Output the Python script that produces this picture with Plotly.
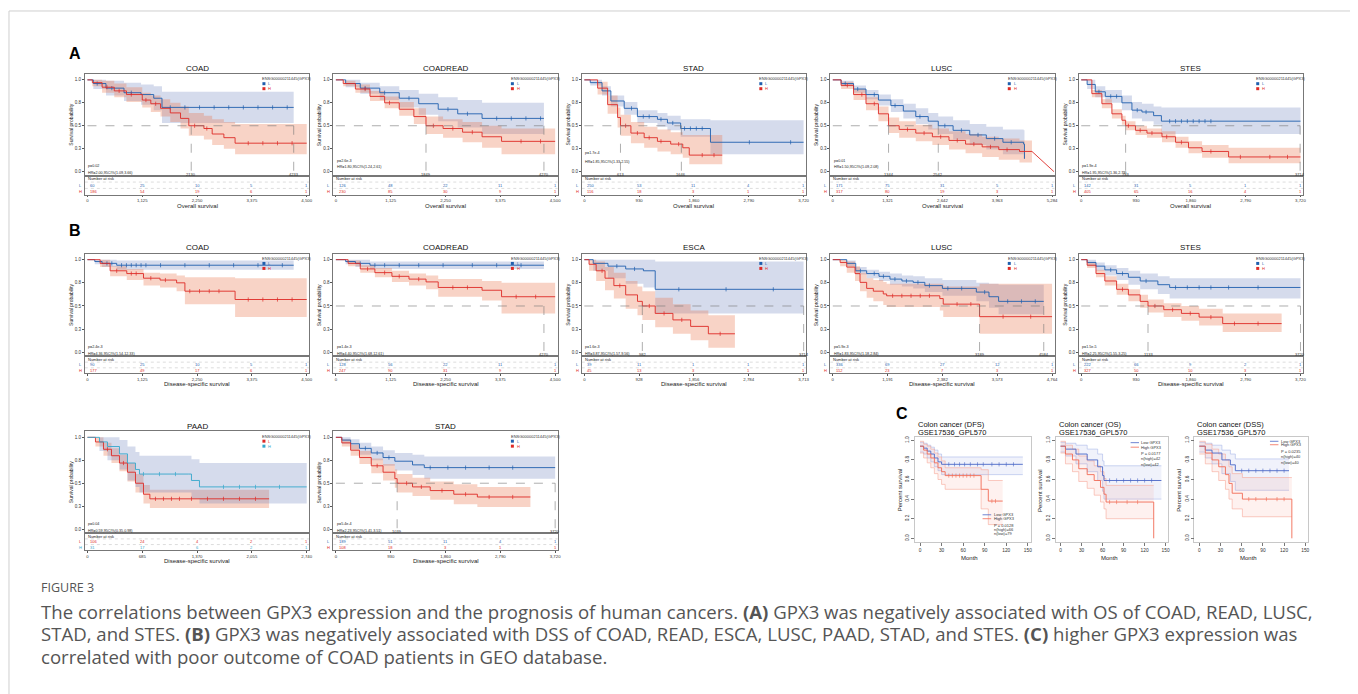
import bisect
import plotly.graph_objects as go

# the page has an 8px body margin, so the figure is drawn at (8, 8)
OFF = 8
FW, FH = 1358 - OFF, 694 - OFF
FONT = "Liberation Sans, Arial, sans-serif"

# ------------------------------------------------------------------ data
COAD_OS = dict(
    title="COAD", xlabel="Overall survival", xmax=4500,
    ticks=[0, 1125, 2250, 3375, 4500], ticklab=["0", "1,125", "2,250", "3,375", "4,500"],
    L_t=[0, 120, 380, 750, 1100, 1360, 1530, 4233],
    L_s=[1, 0.96, 0.91, 0.86, 0.84, 0.80, 0.70, 0.70],
    L_lo=[1, 0.90, 0.83, 0.77, 0.73, 0.67, 0.53, 0.53],
    L_hi=[1, 1, 0.99, 0.97, 0.95, 0.93, 0.87, 0.87],
    L_c=[200, 500, 900, 1700, 2000, 2300, 2600, 2900, 3200, 3500, 3800, 4100],
    H_t=[0, 100, 300, 550, 800, 1125, 1300, 1500, 1700, 1910, 2080, 2390, 2560, 2800, 3030, 4500],
    H_s=[1, 0.97, 0.92, 0.88, 0.84, 0.78, 0.74, 0.69, 0.64, 0.58, 0.50, 0.47, 0.41, 0.37, 0.31, 0.31],
    H_lo=[1, 0.93, 0.86, 0.81, 0.76, 0.70, 0.65, 0.60, 0.54, 0.47, 0.39, 0.35, 0.29, 0.25, 0.19, 0.19],
    H_hi=[1, 1, 0.99, 0.96, 0.92, 0.86, 0.83, 0.79, 0.75, 0.71, 0.64, 0.61, 0.57, 0.54, 0.52, 0.52],
    H_c=[400, 650, 900, 1200, 1400, 2200, 2450, 3300, 3600, 3900, 4200],
    med=[2130, 4233], risk_L=[60, 25, 10, 5, 1], risk_H=[186, 54, 19, 6, 1],
    p="p=0.02", hr="HR=2.00,95CI%(1.09,3.66)")

COADREAD_OS = dict(
    title="COADREAD", xlabel="Overall survival", xmax=4500,
    ticks=[0, 1125, 2250, 3375, 4500], ticklab=["0", "1,125", "2,250", "3,375", "4,500"],
    L_t=[0, 200, 500, 900, 1300, 1700, 2100, 2500, 3000, 4270],
    L_s=[1, 0.96, 0.91, 0.86, 0.80, 0.74, 0.68, 0.63, 0.58, 0.58],
    L_lo=[1, 0.92, 0.85, 0.78, 0.70, 0.62, 0.55, 0.48, 0.41, 0.41],
    L_hi=[1, 1, 0.97, 0.93, 0.89, 0.85, 0.81, 0.78, 0.75, 0.75],
    L_c=[600, 1000, 1500, 2300, 2700, 3300, 3600, 3900, 4200],
    H_t=[0, 150, 400, 700, 1000, 1300, 1600, 1849, 2200, 2600, 3000, 3400, 4500],
    H_s=[1, 0.96, 0.90, 0.82, 0.75, 0.68, 0.60, 0.50, 0.47, 0.43, 0.38, 0.33, 0.33],
    H_lo=[1, 0.93, 0.86, 0.77, 0.69, 0.61, 0.52, 0.41, 0.37, 0.32, 0.26, 0.19, 0.19],
    H_hi=[1, 0.99, 0.95, 0.88, 0.82, 0.76, 0.69, 0.60, 0.57, 0.54, 0.50, 0.47, 0.47],
    H_c=[600, 1100, 2000, 2400, 2800, 3800, 4200],
    med=[1849, 4270], risk_L=[126, 48, 22, 11, 1], risk_H=[230, 85, 30, 9, 1],
    p="p=2.6e-3", hr="HR=1.80,95CI%(1.24,2.61)")

STAD_OS = dict(
    title="STAD", xlabel="Overall survival", xmax=3720,
    ticks=[0, 930, 1860, 2790, 3720], ticklab=["0", "930", "1,860", "2,790", "3,720"],
    L_t=[0, 100, 300, 450, 676, 900, 1240, 1410, 1634, 2140, 3720],
    L_s=[1, 0.97, 0.88, 0.77, 0.69, 0.60, 0.57, 0.53, 0.47, 0.32, 0.32],
    L_lo=[1, 0.94, 0.83, 0.71, 0.62, 0.53, 0.49, 0.45, 0.38, 0.19, 0.19],
    L_hi=[1, 1, 0.93, 0.83, 0.76, 0.67, 0.64, 0.61, 0.57, 0.56, 0.56],
    L_c=[800, 1000, 1100, 1300, 1500, 1700, 1800, 1900, 2000, 2800, 3500],
    H_t=[0, 225, 395, 564, 613, 790, 1015, 1240, 1465, 1670, 1780, 2340],
    H_s=[1, 0.91, 0.73, 0.59, 0.50, 0.42, 0.37, 0.33, 0.30, 0.26, 0.18, 0.18],
    H_lo=[1, 0.84, 0.63, 0.48, 0.39, 0.31, 0.26, 0.22, 0.19, 0.15, 0.08, 0.08],
    H_hi=[1, 0.98, 0.83, 0.70, 0.62, 0.54, 0.49, 0.46, 0.43, 0.40, 0.40, 0.40],
    H_c=[700, 900, 1100, 1300, 1600, 2000, 2200],
    med=[613, 1646], risk_L=[250, 53, 11, 4, 1], risk_H=[116, 18, 3, 1, 1],
    p="p=1.7e-4", hr="HR=1.85,95CI%(1.33,2.55)")

LUSC_OS = dict(
    title="LUSC", xlabel="Overall survival", xmax=5284,
    ticks=[0, 1321, 2642, 3963, 5284], ticklab=["0", "1,321", "2,642", "3,963", "5,284"],
    L_t=[0, 200, 500, 800, 1100, 1400, 1700, 2000, 2300, 2542, 2900, 3300, 3700, 4100, 4600, 4620],
    L_s=[1, 0.96, 0.90, 0.84, 0.78, 0.72, 0.66, 0.60, 0.55, 0.50, 0.45, 0.40, 0.36, 0.32, 0.30, 0.14],
    L_lo=[1, 0.93, 0.86, 0.79, 0.72, 0.65, 0.58, 0.52, 0.46, 0.41, 0.35, 0.29, 0.24, 0.19, 0.14, 0.14],
    L_hi=[1, 0.99, 0.94, 0.89, 0.84, 0.79, 0.74, 0.69, 0.64, 0.60, 0.56, 0.52, 0.49, 0.46, 0.45, 0.45],
    L_c=[300, 600, 1000, 1500, 2100, 2700, 3100, 3500, 3900, 4300],
    H_t=[0, 200, 500, 800, 1100, 1344, 1600, 2000, 2400, 2800, 3200, 3600, 4000, 4500, 4800],
    H_s=[1, 0.94, 0.84, 0.74, 0.63, 0.50, 0.46, 0.42, 0.38, 0.34, 0.30, 0.27, 0.24, 0.22, 0.22],
    H_lo=[1, 0.90, 0.78, 0.67, 0.55, 0.42, 0.37, 0.33, 0.29, 0.24, 0.20, 0.16, 0.13, 0.10, 0.10],
    H_hi=[1, 0.98, 0.90, 0.81, 0.71, 0.59, 0.55, 0.51, 0.47, 0.44, 0.41, 0.38, 0.36, 0.34, 0.34],
    H_c=[350, 700, 1000, 1800, 2200, 2600, 3000, 3400, 3800, 4200],
    H_tail_t=[4800, 5330], H_tail_s=[0.22, 0.0],
    med=[1344, 2542], risk_L=[171, 75, 31, 5, 1], risk_H=[317, 80, 19, 3, 1],
    p="p=0.01", hr="HR=1.50,95CI%(1.09,2.08)")

STES_OS = dict(
    title="STES", xlabel="Overall survival", xmax=3720,
    ticks=[0, 930, 1860, 2790, 3720], ticklab=["0", "930", "1,860", "2,790", "3,720"],
    L_t=[0, 100, 238, 408, 690, 860, 1030, 1228, 1360, 3720],
    L_s=[1, 0.95, 0.87, 0.82, 0.75, 0.67, 0.65, 0.61, 0.55, 0.55],
    L_lo=[1, 0.90, 0.81, 0.75, 0.67, 0.58, 0.55, 0.51, 0.41, 0.41],
    L_hi=[1, 1, 0.93, 0.89, 0.83, 0.76, 0.74, 0.71, 0.70, 0.70],
    L_c=[300, 500, 600, 950, 1100, 1500, 1600, 1700, 1800, 1900, 2000, 2100, 2200],
    H_t=[0, 180, 350, 520, 690, 753, 920, 1115, 1370, 1600, 1820, 2050, 2500, 3720],
    H_s=[1, 0.85, 0.74, 0.63, 0.56, 0.50, 0.45, 0.42, 0.38, 0.32, 0.26, 0.22, 0.16, 0.16],
    H_lo=[1, 0.81, 0.69, 0.58, 0.51, 0.45, 0.40, 0.37, 0.32, 0.26, 0.20, 0.15, 0.09, 0.09],
    H_hi=[1, 0.89, 0.79, 0.68, 0.61, 0.55, 0.50, 0.47, 0.44, 0.38, 0.33, 0.29, 0.26, 0.26],
    H_c=[800, 1000, 1200, 1450, 1700, 2200, 2700, 3200, 3500],
    med=[753, 3714], risk_L=[142, 31, 5, 1, 1], risk_H=[405, 65, 16, 4, 1],
    p="p=1.9e-4", hr="HR=1.95,95CI%(1.36,2.79)")

COAD_DSS = dict(
    title="COAD", xlabel="Disease-specific survival", xmax=4500,
    ticks=[0, 1125, 2250, 3375, 4500], ticklab=["0", "1,125", "2,250", "3,375", "4,500"],
    L_t=[0, 150, 300, 600, 4233],
    L_s=[1, 0.98, 0.96, 0.94, 0.94],
    L_lo=[1, 0.95, 0.92, 0.89, 0.89],
    L_hi=[1, 1, 1, 0.99, 0.99],
    L_c=[400, 500, 700, 800, 900, 1000, 1100, 1200, 1500, 2000, 2500, 3000, 3500, 4000],
    H_t=[0, 260, 465, 807, 1150, 1490, 1830, 2000, 3030, 4500],
    H_s=[1, 0.96, 0.88, 0.85, 0.80, 0.78, 0.75, 0.66, 0.57, 0.57],
    H_lo=[1, 0.92, 0.82, 0.78, 0.72, 0.70, 0.66, 0.52, 0.38, 0.38],
    H_hi=[1, 1, 0.93, 0.90, 0.86, 0.85, 0.83, 0.81, 0.80, 0.80],
    H_c=[600, 900, 1000, 1300, 1600, 2100, 2300, 2500, 2700, 3300, 3600, 3900, 4200],
    med=[], risk_L=[90, 25, 10, 5, 1], risk_H=[177, 49, 17, 6, 1],
    p="p=2.4e-3", hr="HR=4.36,95CI%(1.54,12.33)")

COADREAD_DSS = dict(
    title="COADREAD", xlabel="Disease-specific survival", xmax=4500,
    ticks=[0, 1125, 2250, 3375, 4500], ticklab=["0", "1,125", "2,250", "3,375", "4,500"],
    L_t=[0, 200, 400, 700, 4270],
    L_s=[1, 0.98, 0.96, 0.94, 0.94],
    L_lo=[1, 0.95, 0.92, 0.90, 0.90],
    L_hi=[1, 1, 1, 0.98, 0.98],
    L_c=[500, 800, 1000, 1300, 1700, 2200, 2800, 3300, 3800],
    H_t=[0, 250, 500, 800, 1150, 1500, 1850, 2100, 3000, 3400, 4500],
    H_s=[1, 0.96, 0.90, 0.86, 0.82, 0.79, 0.76, 0.70, 0.67, 0.60, 0.60],
    H_lo=[1, 0.93, 0.86, 0.81, 0.76, 0.72, 0.68, 0.60, 0.56, 0.42, 0.42],
    H_hi=[1, 0.99, 0.94, 0.91, 0.88, 0.85, 0.83, 0.79, 0.77, 0.75, 0.75],
    H_c=[650, 1000, 1300, 1700, 2400, 2700, 3700, 4100],
    med=[4270], risk_L=[128, 56, 22, 11, 1], risk_H=[247, 90, 31, 9, 1],
    p="p=1.4e-3", hr="HR=4.40,95CI%(1.68,12.61)")

ESCA_DSS = dict(
    title="ESCA", xlabel="Disease-specific survival", xmax=3713,
    ticks=[0, 928, 1856, 2784, 3713], ticklab=["0", "928", "1,856", "2,784", "3,713"],
    L_t=[0, 150, 400, 700, 1000, 1200, 3713],
    L_s=[1, 0.96, 0.93, 0.90, 0.88, 0.68, 0.68],
    L_lo=[1, 0.88, 0.80, 0.74, 0.70, 0.42, 0.42],
    L_hi=[1, 1, 1, 1, 1, 0.98, 0.98],
    L_c=[550, 850, 1600, 2400, 3200],
    H_t=[0, 80, 200, 350, 500, 700, 900, 982, 1200, 1500, 1800, 2100, 2550],
    H_s=[1, 0.95, 0.88, 0.80, 0.72, 0.62, 0.55, 0.50, 0.42, 0.35, 0.28, 0.20, 0.20],
    H_lo=[1, 0.88, 0.77, 0.67, 0.58, 0.47, 0.40, 0.35, 0.27, 0.20, 0.13, 0.05, 0.05],
    H_hi=[1, 1, 0.98, 0.92, 0.86, 0.77, 0.71, 0.66, 0.59, 0.52, 0.45, 0.40, 0.40],
    H_c=[300, 600, 1100, 1350, 1650, 2300],
    med=[982, 3714], risk_L=[39, 11, 1, 1, 1], risk_H=[45, 13, 3, 1, 1],
    p="p=1.6e-3", hr="HR=3.87,95CI%(1.57,9.56)")

LUSC_DSS = dict(
    title="LUSC", xlabel="Disease-specific survival", xmax=4764,
    ticks=[0, 1191, 2382, 3573, 4764], ticklab=["0", "1,191", "2,382", "3,573", "4,764"],
    L_t=[0, 303, 498, 736, 1004, 1242, 1502, 1747, 2000, 2382, 3119, 3394, 3603, 4584],
    L_s=[1, 0.96, 0.88, 0.85, 0.82, 0.79, 0.77, 0.755, 0.72, 0.69, 0.65, 0.60, 0.55, 0.55],
    L_lo=[1, 0.93, 0.84, 0.80, 0.77, 0.73, 0.71, 0.69, 0.65, 0.61, 0.55, 0.48, 0.41, 0.41],
    L_hi=[1, 0.99, 0.92, 0.89, 0.87, 0.85, 0.83, 0.82, 0.80, 0.78, 0.75, 0.74, 0.73, 0.73],
    L_c=[600, 900, 1100, 1350, 1600, 1850, 2100, 2500, 2800, 3300, 3800, 4100, 4400],
    H_t=[0, 159, 303, 483, 592, 736, 881, 1097, 1170, 2325, 2400, 3189, 4764],
    H_s=[1, 0.97, 0.92, 0.85, 0.755, 0.69, 0.66, 0.63, 0.61, 0.58, 0.52, 0.385, 0.385],
    H_lo=[1, 0.93, 0.86, 0.77, 0.66, 0.59, 0.55, 0.51, 0.49, 0.45, 0.38, 0.20, 0.20],
    H_hi=[1, 1, 0.98, 0.93, 0.86, 0.80, 0.78, 0.76, 0.74, 0.74, 0.71, 0.74, 0.74],
    H_c=[1300, 1500, 1700, 1900, 2100, 2700, 3000, 3700, 4300],
    med=[3189, 4584], risk_L=[336, 69, 27, 12, 1], risk_H=[112, 23, 7, 3, 1],
    p="p=5.9e-3", hr="HR=1.83,95CI%(1.18,2.84)")

STES_DSS = dict(
    title="STES", xlabel="Disease-specific survival", xmax=3720,
    ticks=[0, 930, 1860, 2790, 3720], ticklab=["0", "930", "1,860", "2,790", "3,720"],
    L_t=[0, 100, 250, 400, 600, 800, 1000, 1300, 1500, 3720],
    L_s=[1, 0.97, 0.93, 0.89, 0.85, 0.81, 0.77, 0.73, 0.70, 0.70],
    L_lo=[1, 0.93, 0.88, 0.83, 0.78, 0.73, 0.68, 0.63, 0.58, 0.58],
    L_hi=[1, 1, 0.97, 0.94, 0.91, 0.88, 0.85, 0.82, 0.80, 0.80],
    L_c=[500, 700, 1100, 1600, 1800, 2000, 2200, 2500, 3000],
    H_t=[0, 100, 250, 400, 600, 800, 1000, 1133, 1400, 1700, 2000, 2400, 3400],
    H_s=[1, 0.94, 0.85, 0.77, 0.68, 0.62, 0.55, 0.50, 0.46, 0.42, 0.38, 0.31, 0.31],
    H_lo=[1, 0.91, 0.81, 0.72, 0.62, 0.55, 0.48, 0.43, 0.38, 0.34, 0.29, 0.22, 0.22],
    H_hi=[1, 0.97, 0.89, 0.82, 0.74, 0.68, 0.62, 0.57, 0.53, 0.50, 0.47, 0.42, 0.42],
    H_c=[700, 1250, 1550, 1850, 2200, 2600, 3000],
    med=[1133, 3720], risk_L=[222, 66, 9, 2, 1], risk_H=[327, 50, 10, 3, 1],
    p="p=1.5e-5", hr="HR=2.25,95CI%(1.55,3.25)")

PAAD_DSS = dict(
    title="PAAD", xlabel="Disease-specific survival", xmax=2740,
    ticks=[0, 685, 1370, 2055, 2740], ticklab=["0", "685", "1,370", "2,055", "2,740"],
    L_t=[0, 100, 200, 300, 400, 500, 600, 700, 780, 2270],
    L_s=[1, 0.95, 0.87, 0.80, 0.72, 0.62, 0.50, 0.38, 0.33, 0.33],
    L_lo=[1, 0.90, 0.80, 0.72, 0.63, 0.52, 0.40, 0.28, 0.23, 0.23],
    L_hi=[1, 1, 0.94, 0.88, 0.81, 0.72, 0.60, 0.48, 0.43, 0.43],
    L_c=[250, 450, 850, 950, 1050, 1150, 1300, 1500, 1700, 1900, 2100],
    H_t=[0, 150, 250, 400, 500, 600, 650, 1260, 1300, 1400, 2740],
    H_s=[1, 0.95, 0.90, 0.82, 0.72, 0.65, 0.60, 0.60, 0.53, 0.46, 0.46],
    H_lo=[1, 0.85, 0.75, 0.65, 0.53, 0.46, 0.40, 0.40, 0.33, 0.28, 0.28],
    H_hi=[1, 1, 1, 0.97, 0.90, 0.84, 0.80, 0.80, 0.76, 0.72, 0.72],
    H_c=[700, 900, 1100, 1700, 1900, 2100, 2400],
    med=[], risk_L=[106, 24, 4, 2, 1], risk_H=[31, 17, 6, 2, 1],
    p="p=0.04", hr="HR=0.59,95CI%(0.35,0.98)")

STAD_DSS = dict(
    title="STAD", xlabel="Disease-specific survival", xmax=3720,
    ticks=[0, 930, 1860, 2790, 3720], ticklab=["0", "930", "1,860", "2,790", "3,720"],
    L_t=[0, 100, 250, 400, 600, 800, 1000, 1300, 1500, 3720],
    L_s=[1, 0.97, 0.93, 0.88, 0.83, 0.78, 0.74, 0.70, 0.67, 0.67],
    L_lo=[1, 0.93, 0.87, 0.81, 0.75, 0.69, 0.64, 0.59, 0.55, 0.55],
    L_hi=[1, 1, 0.98, 0.94, 0.90, 0.86, 0.83, 0.81, 0.79, 0.79],
    L_c=[500, 700, 900, 1600, 1900, 2200, 2600, 3000],
    H_t=[0, 100, 250, 400, 600, 800, 1000, 1039, 1300, 1600, 2000, 2400, 3300],
    H_s=[1, 0.94, 0.86, 0.78, 0.69, 0.62, 0.55, 0.50, 0.46, 0.42, 0.38, 0.35, 0.35],
    H_lo=[1, 0.90, 0.80, 0.71, 0.61, 0.53, 0.45, 0.40, 0.36, 0.32, 0.27, 0.24, 0.24],
    H_hi=[1, 0.98, 0.92, 0.85, 0.77, 0.71, 0.65, 0.60, 0.56, 0.52, 0.49, 0.46, 0.46],
    H_c=[700, 1200, 1450, 1800, 2200, 2600, 3000],
    med=[1039, 3720], risk_L=[189, 51, 11, 4, 1], risk_H=[108, 18, 3, 1, 1],
    p="p=5.4e-4", hr="HR=2.23,95CI%(1.41,3.51)")

GEO_DFS = dict(
    t1="Colon cancer (DFS)", t2="GSE17536_GPL570",
    low_t=[0, 5, 10, 15, 20, 25, 30, 143],
    low_s=[0.94, 0.92, 0.89, 0.86, 0.82, 0.78, 0.755, 0.755],
    low_lo=[0.88, 0.86, 0.82, 0.78, 0.73, 0.69, 0.65, 0.65],
    low_hi=[0.98, 0.97, 0.95, 0.93, 0.90, 0.86, 0.83, 0.83],
    low_c=[40, 48, 55, 62, 70, 80, 88, 100, 110, 120, 130],
    high_t=[0, 5, 10, 15, 20, 25, 30, 35, 85, 95, 115],
    high_s=[0.94, 0.90, 0.86, 0.82, 0.77, 0.72, 0.68, 0.64, 0.50, 0.38, 0.38],
    high_lo=[0.87, 0.82, 0.77, 0.72, 0.66, 0.60, 0.55, 0.50, 0.30, 0.14, 0.14],
    high_hi=[0.99, 0.96, 0.94, 0.91, 0.87, 0.83, 0.79, 0.72, 0.70, 0.59, 0.59],
    high_c=[40, 45, 50, 55, 60, 65, 70, 75, 100, 105],
    p="P = 0.0128", nh="n(high)=66", nl="n(low)=79")

GEO_OS = dict(
    t1="Colon cancer (OS)", t2="GSE17536_GPL570",
    low_t=[0, 7, 22, 38, 53, 60, 62, 144],
    low_s=[0.94, 0.91, 0.86, 0.80, 0.73, 0.64, 0.59, 0.59],
    low_lo=[0.88, 0.84, 0.76, 0.68, 0.59, 0.48, 0.40, 0.40],
    low_hi=[0.98, 0.97, 0.95, 0.91, 0.86, 0.79, 0.74, 0.74],
    low_c=[70, 80, 90, 100, 110, 120, 130],
    high_t=[0, 7, 17, 26, 38, 48, 57, 62, 65, 133],
    high_s=[0.94, 0.86, 0.80, 0.71, 0.65, 0.59, 0.52, 0.45, 0.37, 0.0],
    high_lo=[0.87, 0.76, 0.68, 0.58, 0.51, 0.44, 0.37, 0.30, 0.20, 0.20],
    high_hi=[0.99, 0.95, 0.91, 0.84, 0.79, 0.74, 0.68, 0.61, 0.54, 0.54],
    high_c=[70, 80, 95, 110],
    p="P = 0.0177", nh="n(high)=42", nl="n(low)=42")

GEO_DSS = dict(
    t1="Colon cancer (DSS)", t2="GSE17536_GPL570",
    low_t=[0, 8.5, 18, 32, 44, 51, 127],
    low_s=[0.94, 0.90, 0.87, 0.80, 0.75, 0.69, 0.69],
    low_lo=[0.88, 0.82, 0.76, 0.66, 0.58, 0.49, 0.49],
    low_hi=[0.98, 0.97, 0.95, 0.90, 0.86, 0.81, 0.81],
    low_c=[60, 70, 80, 90, 100, 110, 120],
    high_t=[0, 8.5, 18, 27.5, 37, 42, 46.5, 61, 131],
    high_s=[0.94, 0.87, 0.80, 0.73, 0.65, 0.56, 0.46, 0.40, 0.0],
    high_lo=[0.86, 0.76, 0.68, 0.59, 0.50, 0.40, 0.30, 0.22, 0.22],
    high_hi=[0.99, 0.96, 0.91, 0.86, 0.80, 0.73, 0.66, 0.62, 0.62],
    high_c=[70, 80, 95, 110, 120],
    p="P = 0.0235", nh="n(high)=40", nl="n(low)=40")

CAPTION_HEAD = "FIGURE 3"
CAPTION_LINES = [
    "The correlations between GPX3 expression and the prognosis of human cancers. <b>(A)</b> GPX3 was negatively associated with OS of COAD, READ, LUSC,",
    "STAD, and STES. <b>(B)</b> GPX3 was negatively associated with DSS of COAD, READ, ESCA, LUSC, PAAD, STAD, and STES. <b>(C)</b> higher GPX3 expression was",
    "correlated with poor outcome of COAD patients in GEO database.",
]

# ------------------------------------------------------------------ helpers
fig = go.Figure()
lay = {}
shapes = []
ann = []
cnt = [0]


def fx(x):
    return (x - OFF) / FW


def fy(y):
    return 1 - (y - OFF) / FH


def step_at(ts, ss, c):
    i = bisect.bisect_right(ts, c) - 1
    return ss[max(i, 0)]


def add_axes(x0, x1, ytop, ybot, xr, yr, xopts=None, yopts=None, lc="#777"):
    cnt[0] += 1
    n = cnt[0]
    s = "" if n == 1 else str(n)
    base = dict(showgrid=False, zeroline=False, showline=True, mirror=True,
                linecolor=lc, linewidth=0.6, fixedrange=True,
                showticklabels=False, ticks="")
    xa = dict(base, domain=[fx(x0), fx(x1)], range=xr, anchor="y" + s)
    ya = dict(base, domain=[fy(ybot), fy(ytop)], range=yr, anchor="x" + s)
    if xopts:
        xa.update(xopts)
    if yopts:
        ya.update(yopts)
    lay["xaxis" + s] = xa
    lay["yaxis" + s] = ya
    return "x" + s, "y" + s


def text(x, y, t, size, color="#222", xref="paper", yref="paper", xanchor="center",
         yanchor="middle", angle=0, family=FONT):
    ann.append(dict(x=x, y=y, xref=xref, yref=yref, text=t, showarrow=False,
                    xanchor=xanchor, yanchor=yanchor, textangle=angle, borderpad=0,
                    font=dict(size=size, color=color, family=family)))


BLUE = "#1f5fae"
RED = "#de2a26"
TEAL = "#36a7cc"
BAND_B = "rgba(105,125,185,0.28)"
BAND_R = "rgba(234,118,78,0.32)"


def km(P, x0, row, colL, colH, bandL, bandH, phr=(0.06, -0.018)):
    yt, ytop, ymain, yrisk, yxlab = row
    x1 = x0 + 225
    xmax = P["xmax"]
    xr = [-0.012 * xmax, 1.012 * xmax]
    yr = [-0.045, 1.065]
    xa, ya = add_axes(
        x0, x1, ytop, ymain, xr, yr,
        yopts=dict(showticklabels=True, ticks="outside", ticklen=2, tickwidth=0.5,
                   tickcolor="#555", tickvals=[0, 0.25, 0.5, 0.75, 1],
                   ticktext=["0.0", "0.3", "0.5", "0.8", "1.0"],
                   tickfont=dict(size=4.5, color="#333", family=FONT)))
    for key, band in (("L", bandL), ("H", bandH)):
        t = P[key + "_t"]
        fig.add_trace(go.Scatter(x=t, y=P[key + "_lo"], mode="lines",
                                 line=dict(width=0, shape="hv"), xaxis=xa, yaxis=ya,
                                 hoverinfo="skip", showlegend=False))
        fig.add_trace(go.Scatter(x=t, y=P[key + "_hi"], mode="lines",
                                 line=dict(width=0, shape="hv"), fill="tonexty",
                                 fillcolor=band, xaxis=xa, yaxis=ya,
                                 hoverinfo="skip", showlegend=False))
    for key, col in (("L", colL), ("H", colH)):
        t, s = P[key + "_t"], P[key + "_s"]
        fig.add_trace(go.Scatter(x=t, y=s, mode="lines",
                                 line=dict(color=col, width=0.9, shape="hv"),
                                 xaxis=xa, yaxis=ya, showlegend=False))
        cs = P[key + "_c"]
        fig.add_trace(go.Scatter(x=cs, y=[step_at(t, s, c) for c in cs], mode="markers",
                                 marker=dict(symbol="line-ns", size=3,
                                             line=dict(color=col, width=0.7)),
                                 xaxis=xa, yaxis=ya, showlegend=False, hoverinfo="skip"))
    if "H_tail_t" in P:
        fig.add_trace(go.Scatter(x=P["H_tail_t"], y=P["H_tail_s"], mode="lines",
                                 line=dict(color=colH, width=0.9), xaxis=xa, yaxis=ya,
                                 showlegend=False))
    meds = P["med"]
    dl = dict(color="#777", width=0.6, dash="dash")
    if meds:
        shapes.append(dict(type="line", xref=xa, yref=ya, x0=0, x1=max(meds),
                           y0=0.5, y1=0.5, line=dl))
        for m in meds:
            shapes.append(dict(type="line", xref=xa, yref=ya, x0=m, x1=m,
                               y0=0.5, y1=-0.005, line=dl))
            text(m, -0.028, str(m), 4, "#333", xref=xa, yref=ya)
    text(xr[0] + 0.012 * xmax, phr[0], P["p"], 3.7, "#222", xref=xa, yref=ya, xanchor="left")
    text(xr[0] + 0.012 * xmax, phr[1], P["hr"], 3.7, "#222", xref=xa, yref=ya, xanchor="left")
    # legend
    text(fx(x0 + 177), fy(ytop + 5), "ENSG00000211445(GPX3)", 4, "#333", xanchor="left")
    for i, (lab, col) in enumerate((("L", colL), ("H", colH))):
        yy = ytop + 9.8 + 5 * i
        shapes.append(dict(type="rect", xref="paper", yref="paper",
                           x0=fx(x0 + 178), x1=fx(x0 + 181), y0=fy(yy + 1.5), y1=fy(yy - 1.5),
                           fillcolor=col, line=dict(width=0)))
        text(fx(x0 + 183), fy(yy), lab, 4, col, xanchor="left")
    # titles
    text(fx((x0 + x1) / 2), fy(yt), P["title"], 8, "#111")
    text(fx(x0 - 14), fy((ytop + ymain) / 2), "Survival probability", 5, "#222", angle=-90)
    # risk table
    xb, yb = add_axes(
        x0, x1, ymain, yrisk, xr, [0, 3],
        xopts=dict(showticklabels=True, ticks="outside", ticklen=1.5, tickwidth=0.5,
                   tickcolor="#555", tickvals=P["ticks"], ticktext=P["ticklab"],
                   tickfont=dict(size=4.3, color="#333", family=FONT)))
    text(xr[0] + 0.01 * xmax, 2.5, "Number at risk", 4, "#222", xref=xb, yref=yb, xanchor="left")
    for yv in (1, 2):
        shapes.append(dict(type="line", xref=xb, yref=yb, x0=xr[0], x1=xr[1], y0=yv, y1=yv,
                           line=dict(color="#bbb", width=0.5, dash="dot")))
    for lab, col, vals, yv in (("L", colL, P["risk_L"], 1.5), ("H", colH, P["risk_H"], 0.5)):
        text(fx(x0 - 2), yv, lab, 4, col, xref="paper", yref=yb, xanchor="right")
        for i, (tv, v) in enumerate(zip(P["ticks"], vals)):
            text(tv + (0.008 * xmax if i == 0 else 0), yv, str(v), 4, col, xref=xb, yref=yb,
                 xanchor="left" if i == 0 else "center")
    text(fx((x0 + x1) / 2), fy(yxlab), P["xlabel"], 6, "#222")


def geo(G, x0, x1, leg_x, leg_y):
    xa, ya = add_axes(
        x0, x1, 437, 542, [-7, 154], [-0.04, 1.03], lc="#c8c8c8",
        xopts=dict(showticklabels=True, ticks="outside", ticklen=3, tickwidth=0.5,
                   tickcolor="#777", tickvals=[0, 30, 60, 90, 120, 150],
                   tickfont=dict(size=4.8, color="#333", family=FONT)),
        yopts=dict(showticklabels=True, ticks="outside", ticklen=3, tickwidth=0.5,
                   tickcolor="#777", tickvals=[0, 0.2, 0.4, 0.6, 0.8, 1.0],
                   ticktext=["0.0", "0.2", "0.4", "0.6", "0.8", "1.0"], tickangle=-90,
                   tickfont=dict(size=4.8, color="#333", family=FONT)))
    styles = (("low", "#4a66c6", "#aab8ea", "rgba(110,130,215,0.10)"),
              ("high", "#f26b55", "#f6a899", "rgba(245,120,100,0.10)"))
    for key, col, lc, fc in styles:
        t = G[key + "_t"]
        fig.add_trace(go.Scatter(x=t, y=G[key + "_lo"], mode="lines",
                                 line=dict(color=lc, width=0.6, shape="hv"),
                                 xaxis=xa, yaxis=ya, hoverinfo="skip", showlegend=False))
        fig.add_trace(go.Scatter(x=t, y=G[key + "_hi"], mode="lines",
                                 line=dict(color=lc, width=0.6, shape="hv"), fill="tonexty",
                                 fillcolor=fc, xaxis=xa, yaxis=ya, hoverinfo="skip",
                                 showlegend=False))
    for key, col, lc, fc in styles:
        t, s = G[key + "_t"], G[key + "_s"]
        fig.add_trace(go.Scatter(x=t, y=s, mode="lines",
                                 line=dict(color=col, width=0.9, shape="hv"),
                                 xaxis=xa, yaxis=ya, showlegend=False))
        cs = G[key + "_c"]
        fig.add_trace(go.Scatter(x=cs, y=[step_at(t, s, c) for c in cs], mode="markers",
                                 marker=dict(symbol="line-ns", size=3,
                                             line=dict(color=col, width=0.6)),
                                 xaxis=xa, yaxis=ya, showlegend=False, hoverinfo="skip"))
    for i, (lab, col) in enumerate((("Low GPX3", "#4a66c6"), ("High GPX3", "#f26b55"))):
        shapes.append(dict(type="line", xref=xa, yref=ya, x0=leg_x, x1=leg_x + 12,
                           y0=leg_y[i], y1=leg_y[i], line=dict(color=col, width=0.8)))
        text(leg_x + 14, leg_y[i], lab, 4, "#333", xref=xa, yref=ya, xanchor="left")
    for i, lab in enumerate((G["p"], G["nh"], G["nl"])):
        text(leg_x + 14, leg_y[i + 2], lab, 4, "#333", xref=xa, yref=ya, xanchor="left")
    text(fx(x0 + 2), fy(424), G["t1"], 7.5, "#111", xanchor="left")
    text(fx(x0 + 2), fy(432.5), G["t2"], 7.5, "#111", xanchor="left")
    text(fx(x0 - 15), fy(490), "Percent survival", 6, "#222", angle=-90)
    text(fx((x0 + x1) / 2 - 3), fy(558), "Month", 6, "#222")


# ------------------------------------------------------------------ build
ROW_A = (68, 73, 175, 194, 205)
ROW_B = (247, 253, 356, 373, 384)
ROW_C = (426, 431, 533, 550, 561)
COLS = [85, 334, 583, 832, 1081]
PHR_A = [(0.06, -0.018), (0.12, 0.05), (0.2, 0.11), (0.12, 0.05), (0.06, -0.018)]

for P, xc, ph in zip([COAD_OS, COADREAD_OS, STAD_OS, LUSC_OS, STES_OS], COLS, PHR_A):
    km(P, xc, ROW_A, BLUE, RED, BAND_B, BAND_R, ph)
for P, xc in zip([COAD_DSS, COADREAD_DSS, ESCA_DSS, LUSC_DSS, STES_DSS], COLS):
    km(P, xc, ROW_B, BLUE, RED, BAND_B, BAND_R)
km(PAAD_DSS, COLS[0], ROW_C, RED, TEAL, BAND_R, BAND_B)
km(STAD_DSS, COLS[1], ROW_C, BLUE, RED, BAND_B, BAND_R)

geo(GEO_DFS, 917, 1033, 87, [0.24, 0.20, 0.13, 0.09, 0.045])
geo(GEO_OS, 1058, 1171, 100, [0.976, 0.93, 0.87, 0.81, 0.755])
geo(GEO_DSS, 1197, 1311, 100, [0.99, 0.955, 0.887, 0.83, 0.77])

# panel letters
text(fx(75), fy(53), "<b>A</b>", 16, "#000", family="Liberation Sans, Arial")
text(fx(75), fy(230), "<b>B</b>", 16, "#000", family="Liberation Sans, Arial")
text(fx(904), fy(413), "<b>C</b>", 16, "#000", family="Liberation Sans, Arial")

# caption
CAP_FONT = "Open Sans, Noto Sans, sans-serif"
text(fx(40), fy(587), CAPTION_HEAD, 12.5, "#555", xanchor="left", family=CAP_FONT)
for i, line in enumerate(CAPTION_LINES):
    text(fx(40), fy(611 + 22.5 * i), line, 18.6, "#555", xanchor="left", family=CAP_FONT)

# page border
shapes.append(dict(type="line", xref="paper", yref="paper", x0=fx(9), x1=1, y0=fy(10), y1=fy(10),
                   line=dict(color="#cfcfcf", width=1)))
shapes.append(dict(type="line", xref="paper", yref="paper", x0=fx(9), x1=fx(9), y0=fy(10), y1=0,
                   line=dict(color="#cfcfcf", width=1)))

fig.update_layout(width=FW, height=FH, margin=dict(l=0, r=0, t=0, b=0),
                  paper_bgcolor="white", plot_bgcolor="rgba(0,0,0,0)",
                  showlegend=False, shapes=shapes, annotations=ann, **lay)
fig.write_html("out.html")
